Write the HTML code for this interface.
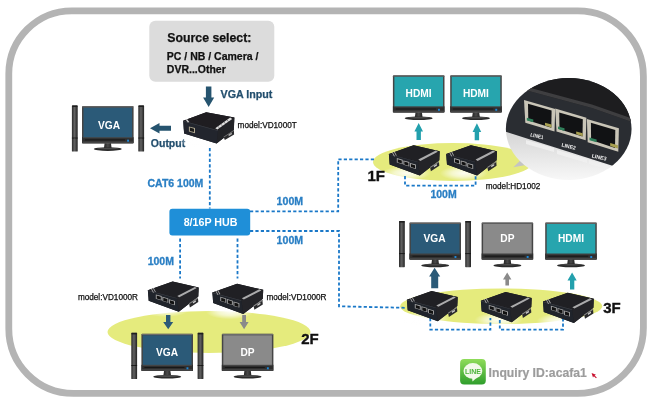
<!DOCTYPE html>
<html><head><meta charset="utf-8">
<style>
html,body{margin:0;padding:0;background:#fff;width:651px;height:404px;overflow:hidden}
svg{display:block;will-change:transform}
text{font-family:"Liberation Sans",sans-serif}
</style></head><body>
<svg width="651" height="404" viewBox="0 0 651 404">
<defs>
  <linearGradient id="spk" x1="0" y1="0" x2="1" y2="0">
    <stop offset="0" stop-color="#2a2a2a"/><stop offset="0.45" stop-color="#626262"/><stop offset="1" stop-color="#222"/>
  </linearGradient>
  <linearGradient id="neck" x1="0" y1="0" x2="1" y2="0">
    <stop offset="0" stop-color="#222"/><stop offset="0.5" stop-color="#4a4a4a"/><stop offset="1" stop-color="#222"/>
  </linearGradient>
  <radialGradient id="shadow" cx="0.5" cy="0.5" r="0.5">
    <stop offset="0" stop-color="#fff" stop-opacity="0.9"/><stop offset="0.5" stop-color="#fff" stop-opacity="0.6"/><stop offset="1" stop-color="#fff" stop-opacity="0"/>
  </radialGradient>
  <linearGradient id="refl" x1="0" y1="0" x2="0" y2="1">
    <stop offset="0" stop-color="#c8c8c8"/><stop offset="0.55" stop-color="#d8d8d8"/><stop offset="0.9" stop-color="#f6f6f6"/><stop offset="1" stop-color="#fff"/>
  </linearGradient>
  <linearGradient id="lineg" x1="0" y1="0" x2="0" y2="1">
    <stop offset="0" stop-color="#8fdc5a"/><stop offset="1" stop-color="#2f9e2c"/>
  </linearGradient>
  <g id="mon">
    <rect x="0" y="0" width="51.6" height="37.2" rx="1" fill="#454545"/>
    <rect x="0.3" y="0.2" width="51" height="1" fill="#707070"/>
    <rect x="0" y="31.1" width="51.6" height="6.1" fill="#2e2e2e"/>
    <rect x="1" y="31.1" width="49.6" height="1" fill="#4a4a4a"/>
    <rect x="3" y="33.3" width="40" height="1" fill="#181818"/>
    <rect x="0.5" y="35.4" width="50.6" height="1.8" fill="#444"/>
    <rect x="45.1" y="33.6" width="1.9" height="2" fill="#1e88d8"/>
    <polygon points="22.6,37.2 29,37.2 29.6,41.9 22,41.9" fill="url(#neck)"/>
    <ellipse cx="25.8" cy="43" rx="14" ry="1.8" fill="#2a2a2a"/>
    <ellipse cx="25.8" cy="42.4" rx="11" ry="0.8" fill="#4a4a4a"/>
  </g>
  <g id="spkr">
    <rect x="0" y="0" width="5.8" height="46.2" rx="0.6" fill="url(#spk)"/>
    <rect x="0.3" y="0" width="5.2" height="1.6" fill="#1e1e1e"/>
    <rect x="0" y="32.2" width="5.8" height="0.9" fill="#151515"/>
    <rect x="2" y="33" width="1.4" height="12" fill="#5a5a5a" opacity="0.6"/>
  </g>
  <ellipse id="glow" cx="19" cy="29" rx="24" ry="7.5" fill="url(#shadow)"/>
  <g id="ext">
        <polygon points="1.4,9.8 26.1,1 52.2,7 51.8,16 32.3,31.3 2.2,20.3" fill="#1b1c20"/>
    <polygon points="1.4,9.8 26.1,1 52.2,7 30.3,17.5" fill="#202024"/>
    <polygon points="30.3,17.5 52.2,7 51.8,16 32.3,31.3" fill="#242428"/>
    <polygon points="1.4,9.8 30.3,17.5 32.3,31.3 2.2,20.3" fill="#20242b"/>
    <polygon points="1.4,9.8 30.3,17.5 30.3,18.1 1.4,10.4" fill="#3a3c42"/>
    <polygon points="42.5,22.8 51.4,17 51.8,21.6 43.4,27" fill="#2a2a2c"/>
    <polygon points="42.5,22.8 51.4,17 51.6,18 42.8,23.8" fill="#8a8a8a"/>
    <polygon points="46.3,21.6 49.3,19.7 49.5,21.2 46.5,23.1" fill="#c8c8c8"/>
    <polygon points="30.8,15.4 48.3,6.4 50.4,7.6 32.8,16.7" fill="#c4c4c4" opacity="0.85"/>
    <polygon points="4.4,8.3 5.2,8 7.4,12 6.6,12.3" fill="#ccc" opacity="0.8"/>
    <polygon points="6.3,7.6 7.1,7.3 9.3,11.3 8.5,11.6" fill="#ccc" opacity="0.8"/>
    <g fill="#a8a8a8">
      <polygon points="9.3,13.9 15.2,15.6 15.2,20 9.3,18.3"/>
      <polygon points="15.9,16.2 21.8,17.9 21.8,22.3 15.9,20.6"/>
      <polygon points="22.5,18.7 28.4,20.4 28.4,24.8 22.5,23.1"/>
    </g>
    <g fill="#111">
      <polygon points="10.2,15 14.3,16.2 14.3,19.3 10.2,18.1"/>
      <polygon points="16.8,17.3 20.9,18.5 20.9,21.6 16.8,20.4"/>
      <polygon points="23.4,19.8 27.5,21 27.5,24.1 23.4,22.9"/>
    </g>
  </g>
  <g id="arrowUp">
    <polygon points="0,0 4.3,8.6 2.2,8.6 2.2,17 -2.2,17 -2.2,8.6 -4.3,8.6"/>
  </g>
</defs>

<!-- outer frame -->
<path d="M71.8,10.8 H577.8 A65.6,65.6 0 0 1 643.4,76.4 V327.8 A65.6,65.6 0 0 1 577.8,393.4 H73.4 A64.6,64.6 0 0 1 8.8,328.8 V73.8 A63,63 0 0 1 71.8,10.8 Z" fill="none" stroke="#b4b4b4" stroke-width="6.8"/>

<!-- source select -->
<rect x="149.3" y="20.8" width="125" height="61" rx="6" fill="#dcdcdc"/>
<text x="167.3" y="41.6" font-size="12.3" font-weight="bold" fill="#111" stroke="#111" stroke-width="0.25">Source select:</text>
<text x="166.8" y="59.9" font-size="10.5" font-weight="bold" fill="#111" stroke="#111" stroke-width="0.25">PC / NB / Camera /</text>
<text x="166.8" y="72.5" font-size="10.5" font-weight="bold" fill="#111" stroke="#111" stroke-width="0.25">DVR...Other</text>

<!-- VGA input arrow -->
<polygon points="205.9,86.5 211.4,86.5 211.4,97.5 214.2,97.5 208.65,106.9 203.1,97.5 205.9,97.5" fill="#26546f"/>
<text x="220.5" y="98.2" font-size="10.7" font-weight="bold" fill="#234f6e" stroke="#234f6e" stroke-width="0.25">VGA Input</text>

<!-- output arrow -->
<polygon points="150,128.3 159.5,123 159.5,125.8 171,125.8 171,130.8 159.5,130.8 159.5,133.6" fill="#26546f"/>
<text x="150.8" y="146.8" font-size="10.5" font-weight="bold" fill="#234f6e" stroke="#234f6e" stroke-width="0.25">Output</text>

<!-- ellipses -->
<ellipse cx="453" cy="162" rx="80" ry="19" fill="#e5eb7d"/>
<ellipse cx="209" cy="332" rx="101.5" ry="21" fill="#e5eb7d"/>
<ellipse cx="501.2" cy="306.2" rx="101" ry="17.8" fill="#e5eb7d"/>
<use href="#glow" x="387.5" y="144.2"/>
<use href="#glow" x="444.8" y="144.2"/>
<use href="#glow" x="146.5" y="280.5"/>
<use href="#glow" x="211" y="282.8"/>
<use href="#glow" x="405.5" y="290"/>
<use href="#glow" x="479.5" y="291"/>
<use href="#glow" x="541.6" y="291.8"/>
<!-- dotted lines -->
<g fill="none" stroke="#1a78c8" stroke-width="1.8" stroke-dasharray="3.2 2.2">
  <path d="M209.8,148 V208.5"/>
  <path d="M250,211.3 H338.2 V159.3 H375"/>
  <path d="M250,231 H339 V306.3 L405,307.8"/>
  <path d="M180.1,238.6 V278.5"/>
  <path d="M237.5,238.6 V278.5"/>
  <path d="M405,176 V185.6 H475.6 V174"/>
  <path d="M430.3,318 V329.6 H490.4 V318"/>
  <path d="M499.8,320 V329.6 H563 V318"/>
</g>

<!-- hub -->
<rect x="169.4" y="208.8" width="80.8" height="26.6" rx="3" fill="#1f8fd8"/>
<text x="210.6" y="226.3" font-size="10.7" font-weight="bold" fill="#fff" text-anchor="middle">8/16P HUB</text>
<text x="147.5" y="187.1" font-size="10.5" font-weight="bold" fill="#2a7fc4" stroke="#2a7fc4" stroke-width="0.3">CAT6 100M</text>
<text x="276.6" y="205.4" font-size="10.6" font-weight="bold" fill="#2a7fc4" stroke="#2a7fc4" stroke-width="0.3">100M</text>
<text x="276.6" y="243.8" font-size="10.6" font-weight="bold" fill="#2a7fc4" stroke="#2a7fc4" stroke-width="0.3">100M</text>
<text x="147.7" y="264.9" font-size="10.5" font-weight="bold" fill="#2a7fc4" stroke="#2a7fc4" stroke-width="0.3">100M</text>
<text x="430.4" y="198" font-size="10.5" font-weight="bold" fill="#2a7fc4" stroke="#2a7fc4" stroke-width="0.3">100M</text>

<!-- left VGA monitor top -->
<use href="#spkr" x="71.9" y="105.4"/>
<use href="#spkr" x="138.3" y="105.4"/>
<use href="#mon" x="82" y="106.1"/>
<rect x="83.5" y="107.7" width="48.6" height="29.5" fill="#2b5a78"/>
<text x="109" y="128.5" font-size="10.2" font-weight="bold" fill="#fff" text-anchor="middle">VGA</text>

<!-- VD1000T device -->
<g>
  <ellipse cx="202" cy="142" rx="24" ry="5" fill="url(#shadow)"/>
  <polygon points="183.2,120.7 206.2,112.2 234.4,117.4 233.8,130 216.6,143.6 184.1,133.4" fill="#1c1d22"/>
  <polygon points="183.2,120.7 206.2,112.2 234.4,117.4 218,130.2" fill="#1f1d21"/>
  <polygon points="218,130.2 234.4,117.4 233.8,130 216.6,143.6" fill="#222327"/>
  <polygon points="183.2,120.7 218,130.2 216.6,143.6 184.1,133.4" fill="#22252d"/>
  <polygon points="183.2,120.7 218,130.2 218,130.9 183.2,121.4" fill="#383a40"/>
  <polygon points="223.6,136.8 233.9,130 234.1,134.4 224.8,140" fill="#2a2a2c"/>
  <polygon points="223.6,136.8 233.9,130 234,130.8 223.8,137.6" fill="#777"/>
  <polygon points="228.5,134.6 231.8,132.6 231.9,134.3 228.7,136.2" fill="#aaa"/>
  <polygon points="215.3,128.2 230.2,117.6 232.2,118.9 217.4,129.5" fill="#dedede"/>
  <g stroke="#1f1d21" stroke-width="0.5"><path d="M218,126.6 l1.6,1.3 M221,124.5 l1.6,1.3 M224,122.3 l1.6,1.3 M227,120.2 l1.6,1.3"/></g>
  <polygon points="185.5,119.6 187,119 189.3,122 187.8,122.6" fill="#ccc"/>
  <polygon points="188.9,126.4 195,128 195,133.2 188.9,131.6" fill="#b0a890"/>
  <polygon points="189.9,127.6 194,128.7 194,132.1 189.9,131" fill="#1a1a1a"/>
</g>
<text x="237.6" y="128.1" font-size="8.2" fill="#111" stroke="#111" stroke-width="0.25">model:VD1000T</text>

<!-- 1F -->
<use href="#mon" x="392.9" y="75.2"/>
<rect x="394.4" y="76.8" width="48.6" height="29.5" fill="#27a5ae"/>
<text x="418.6" y="96.6" font-size="10.2" font-weight="bold" fill="#fff" text-anchor="middle">HDMI</text>
<use href="#mon" x="450.2" y="75.2"/>
<rect x="451.7" y="76.8" width="48.6" height="29.5" fill="#27a5ae"/>
<text x="475.9" y="96.6" font-size="10.2" font-weight="bold" fill="#fff" text-anchor="middle">HDMI</text>
<use href="#arrowUp" x="418.7" y="123" fill="#23a0ad"/>
<use href="#arrowUp" x="476.9" y="123.3" fill="#23a0ad"/>
<use href="#ext" x="387.5" y="144.2"/>
<use href="#ext" x="444.8" y="144.2"/>
<text x="367.4" y="180.6" font-size="15" font-weight="bold" fill="#111" stroke="#111" stroke-width="0.35">1F</text>
<text x="485.7" y="189.2" font-size="8.2" fill="#111" stroke="#111" stroke-width="0.25">model:HD1002</text>

<!-- callout circle -->
<g>
  <clipPath id="cc"><ellipse cx="568.7" cy="129" rx="62.8" ry="51"/></clipPath>
  <polygon points="513.4,167.3 522.3,158.5 526,165" fill="#c4c4c4"/>
  <g clip-path="url(#cc)">
    <rect x="500" y="70" width="140" height="120" fill="url(#refl)"/>
    <g fill="#f0f0f0" opacity="0.9">
      <polygon points="526,140 554,148 554,152 526,144"/>
      <polygon points="557,150 587,159 587,163 557,154"/>
      <polygon points="589,160 620,169 620,173 589,164"/>
    </g>
    <polygon points="500,70 640,70 640,174.5 500,130" fill="#2a2d32"/>
    <polygon points="500,70 640,70 640,125 632,122 592,108 527,90.5 500,83" fill="#1d1d1f"/>
    <polygon points="500,83 527,90.5 592,108 632,122 640,125 640,121 632,118.5 592,104.5 527,87 500,79.5" fill="#3e3e40"/>
        <g transform="translate(524,99.9)">
      <polygon points="0,0 31.2,9.1 30.5,31.6 1.3,22.9" fill="#c9c5b7"/>
      <polygon points="4,3.8 27.6,10.7 27.3,27.8 4.3,20.6" fill="#111214"/>
      <polygon points="2.8,17.8 9.3,19.7 9.3,22.4 2.8,20.5" fill="#2f7f5a"/>
      <polygon points="21,22.8 27.5,24.7 27.5,27.6 21,25.7" fill="#a8a050"/>
    </g>
    <g transform="translate(555.2,108.6)">
      <polygon points="0,0 31.2,9.1 30.5,31.6 1.3,22.9" fill="#c9c5b7"/>
      <polygon points="4,3.8 27.6,10.7 27.3,27.8 4.3,20.6" fill="#111214"/>
      <polygon points="2.8,17.8 9.3,19.7 9.3,22.4 2.8,20.5" fill="#2f7f5a"/>
      <polygon points="21,22.8 27.5,24.7 27.5,27.6 21,25.7" fill="#a8a050"/>
    </g>
    <g transform="translate(586.9,118.9)">
      <polygon points="0,0 32,9.4 31.4,32.9 0.8,23.3" fill="#c9c5b7"/>
      <polygon points="4,3.8 28.4,11 28.1,29 4.2,21" fill="#111214"/>
      <polygon points="2.6,18.5 9.7,20.5 9.7,23.3 2.6,21.3" fill="#2f7f5a"/>
      <polygon points="23.3,24 31,26.3 31,29.5 23.3,27.2" fill="#a8a050"/>
    </g>
    <g fill="#f0f0f0" font-size="5.4" font-weight="bold">
      <text x="530" y="136.4" transform="rotate(13 530 136.4)" textLength="13.5" lengthAdjust="spacingAndGlyphs">LINE1</text>
      <text x="561.2" y="146.6" transform="rotate(13 561.2 146.6)" textLength="14.5" lengthAdjust="spacingAndGlyphs">LINE2</text>
      <text x="591.4" y="157.4" transform="rotate(13 591.4 157.4)" textLength="15" lengthAdjust="spacingAndGlyphs">LINE3</text>
    </g>
  </g>
</g>

<!-- 2F -->
<use href="#ext" x="146.5" y="280.5"/>
<use href="#ext" x="211" y="282.8"/>
<text x="77.9" y="300.3" font-size="8.2" fill="#111" stroke="#111" stroke-width="0.25">model:VD1000R</text>
<text x="266.4" y="300.3" font-size="8.2" fill="#111" stroke="#111" stroke-width="0.25">model:VD1000R</text>
<polygon points="166,315 170.4,315 170.4,322 173.2,322 168.2,329.3 163.2,322 166,322" fill="#2b5a78"/>
<polygon points="242.2,315 246,315 246,322 248.6,322 244.1,329.3 239.6,322 242.2,322" fill="#8a8a8a"/>
<use href="#spkr" x="131.3" y="332.8"/>
<use href="#spkr" x="197.6" y="332.8"/>
<use href="#mon" x="141.4" y="333.7"/>
<rect x="142.9" y="335.3" width="48.6" height="29.5" fill="#2b5a78"/>
<text x="167" y="356.3" font-size="10.2" font-weight="bold" fill="#fff" text-anchor="middle">VGA</text>
<use href="#mon" x="221.8" y="333.7"/>
<rect x="223.3" y="335.3" width="48.6" height="29.5" fill="#8a8a8a"/>
<text x="247.5" y="356.3" font-size="10.2" font-weight="bold" fill="#fff" text-anchor="middle">DP</text>
<text x="301.2" y="344.2" font-size="15" font-weight="bold" fill="#111" stroke="#111" stroke-width="0.35">2F</text>

<!-- 3F -->
<use href="#spkr" x="399" y="221"/>
<use href="#spkr" x="465.2" y="221"/>
<use href="#mon" x="409.4" y="222.4"/>
<rect x="410.9" y="224" width="48.6" height="29.5" fill="#2b5a78"/>
<text x="434.6" y="241.8" font-size="10.2" font-weight="bold" fill="#fff" text-anchor="middle">VGA</text>
<use href="#mon" x="481.6" y="222.4"/>
<rect x="483.1" y="224" width="48.6" height="29.5" fill="#8a8a8a"/>
<text x="507.4" y="241.8" font-size="10.2" font-weight="bold" fill="#fff" text-anchor="middle">DP</text>
<use href="#mon" x="545.2" y="222.4"/>
<rect x="546.7" y="224" width="48.6" height="29.5" fill="#27a5ae"/>
<text x="571" y="241.8" font-size="10.2" font-weight="bold" fill="#fff" text-anchor="middle">HDMI</text>
<polygon points="434.6,267.7 440.2,276.5 438.2,276.5 438.2,288.3 431.2,288.3 431.2,276.5 429.1,276.5" fill="#2b5a78"/>
<polygon points="507.2,272.4 511.4,279.5 509,279.5 509,285.6 505.4,285.6 505.4,279.5 503,279.5" fill="#8a8a8a"/>
<polygon points="572.1,272.4 576.7,280.5 574.3,280.5 574.3,289.4 570,289.4 570,280.5 567.5,280.5" fill="#23a0ad"/>
<use href="#ext" x="405.5" y="290"/>
<use href="#ext" x="479.5" y="291"/>
<use href="#ext" x="541.6" y="291.8"/>
<text x="603.2" y="312.7" font-size="15" font-weight="bold" fill="#111" stroke="#111" stroke-width="0.35">3F</text>

<!-- inquiry -->
<rect x="460.1" y="359.1" width="25.7" height="25.3" rx="4" fill="url(#lineg)"/>
<ellipse cx="472.9" cy="370.9" rx="9.4" ry="7.8" fill="#f2f9ea"/>
<polygon points="472,377 477,377.5 472.5,381.6" fill="#f2f9ea"/>
<text x="473" y="373.5" font-size="7" font-weight="bold" fill="#4cb43a" text-anchor="middle">LINE</text>
<text x="488.6" y="377" font-size="12.2" font-weight="bold" fill="#9c9c9c" stroke="#9c9c9c" stroke-width="0.2">Inquiry ID:acafa1</text>
<polygon points="591.6,373 596,374.8 594.6,375.6 596.8,377.6 596,378.2 593.9,376.3 593,377.6" fill="#c8102e"/>
</svg>
</body></html>
